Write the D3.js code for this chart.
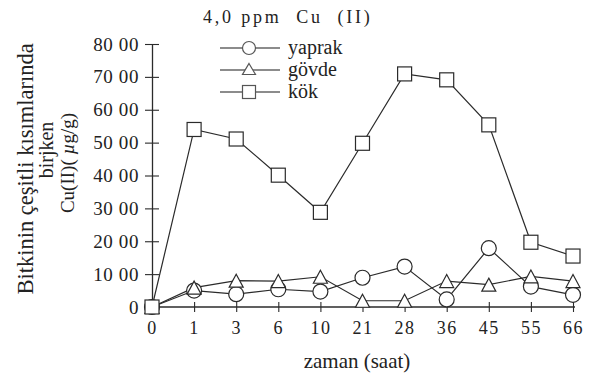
<!DOCTYPE html>
<html>
<head>
<meta charset="utf-8">
<script src="https://cdn.jsdelivr.net/npm/d3@7"></script>
<style>
  html, body { margin: 0; padding: 0; background: #fff; }
  svg { display: block; }
</style>
</head>
<body>
<svg id="chart" width="596" height="383"></svg>
<script>
// Sampling times (saat) shown as evenly spaced categories
const saatler = ["0", "1", "3", "6", "10", "21", "28", "36", "45", "55", "66"];

// Cu(II) accumulated in each plant part, µg/g
const yaprak = [0, 500, 390, 540, 470, 890, 1230, 230, 1790, 620, 370];
const govde  = [0, 590, 800, 790, 920, 190, 190, 790, 680, 930, 790];
const kok    = [0, 5400, 5110, 4010, 2880, 4980, 7090, 6910, 5540, 1970, 1550];

// Y axis tick values and their printed labels
const yTicks = [0, 1000, 2000, 3000, 4000, 5000, 6000, 7000, 8000];
const yTickLabels = ["0", "10 00", "20 00", "30 00", "40 00", "50 00", "60 00", "70 00", "80 00"];

const FONT = "'Liberation Serif', 'Times New Roman', Times, Tinos, 'Nimbus Roman', 'FreeSerif', 'DejaVu Serif', serif";
const svg = d3.select("#chart").style("font-family", FONT);
const ink = "#2b2b2b";

const x = d3.scalePoint().domain(saatler).range([152, 573]);
const y = d3.scaleLinear().domain([0, 8000]).range([307, 44]);

// Y axis with ticks crossing the axis line
const yAxis = svg.append("g")
  .attr("transform", "translate(152,0)")
  .call(d3.axisLeft(y).tickValues(yTicks)
    .tickFormat((d, i) => yTickLabels[i])
    .tickSizeOuter(0).tickSizeInner(7).tickPadding(6));
yAxis.attr("font-family", null);
yAxis.select(".domain").attr("stroke", ink).attr("stroke-width", 1.3);
yAxis.selectAll(".tick line").attr("x1", -7).attr("x2", 7).attr("stroke", ink).attr("stroke-width", 1.1);
yAxis.selectAll(".tick text")
  .attr("x", -13)
  .style("font-family", FONT)
  .style("font-size", "19px").style("letter-spacing", "0.6px")
  .attr("fill", "#222");

// X axis with ticks crossing the axis line
const xAxis = svg.append("g")
  .attr("transform", "translate(0,307)")
  .call(d3.axisBottom(x).tickSizeOuter(0).tickSizeInner(5).tickPadding(10));
xAxis.attr("font-family", null);
xAxis.select(".domain").attr("stroke", ink).attr("stroke-width", 1.3)
  .attr("d", "M152,0H575");
xAxis.selectAll(".tick line").attr("y1", -5).attr("y2", 5).attr("stroke", ink).attr("stroke-width", 1.1);
xAxis.selectAll(".tick text")
  .attr("y", 14)
  .style("font-family", FONT)
  .style("font-size", "18px").style("letter-spacing", "1.5px")
  .attr("fill", "#222");

// Marker drawers
function circle(g, cx, cy, r) {
  g.append("circle").attr("cx", cx).attr("cy", cy).attr("r", r)
    .attr("fill", "#fff").attr("stroke", ink).attr("stroke-width", 1.2);
}
function triangle(g, cx, cy, w, h) {
  g.append("path")
    .attr("d", `M${cx},${cy - h / 2}L${cx + w / 2},${cy + h / 2}L${cx - w / 2},${cy + h / 2}Z`)
    .attr("fill", "#fff").attr("stroke", ink).attr("stroke-width", 1.2);
}
function square(g, cx, cy, s) {
  g.append("rect").attr("x", cx - s / 2).attr("y", cy - s / 2).attr("width", s).attr("height", s)
    .attr("fill", "#fff").attr("stroke", ink).attr("stroke-width", 1.2);
}

const line = d3.line().x((d, i) => x(saatler[i])).y(d => y(d));

const series = [
  { values: yaprak, marker: (g, cx, cy) => circle(g, cx, cy, 7.5) },
  { values: govde,  marker: (g, cx, cy) => triangle(g, cx, cy, 14, 13) },
  { values: kok,    marker: (g, cx, cy) => square(g, cx, cy, 14) }
];

const plot = svg.append("g");
series.forEach(s => {
  plot.append("path").datum(s.values)
    .attr("d", line).attr("fill", "none")
    .attr("stroke", ink).attr("stroke-width", 1.2);
});
series.forEach(s => {
  const g = plot.append("g");
  s.values.forEach((v, i) => s.marker(g, x(saatler[i]), y(v)));
});

function label(sel) {
  return sel.style("font-family", FONT).attr("fill", "#222");
}

// Title
label(svg.append("text"))
  .attr("x", 203).attr("y", 23)
  .style("font-size", "18px").style("letter-spacing", "2.8px")
  .style("white-space", "pre")
  .text("4,0 ppm  Cu  (II)");

// Legend
const legendNames = ["yaprak", "gövde", "kök"];
const legendRowsY = [48, 70, 92];
const legend = svg.append("g");
legendNames.forEach((name, i) => {
  const ly = legendRowsY[i];
  legend.append("line").attr("x1", 220).attr("x2", 280).attr("y1", ly).attr("y2", ly)
    .attr("stroke", "#666").attr("stroke-width", 1.3);
  const m = legend.append("g");
  if (i === 0) circle(m, 249, ly, 6.5);
  if (i === 1) triangle(m, 249, ly - 1, 13, 11);
  if (i === 2) square(m, 249, ly, 13);
  m.selectAll("*").attr("stroke", "#555");
  label(legend.append("text")).attr("x", 288).attr("y", ly + 6)
    .style("font-size", "20px").text(name);
});

// Y axis title, three rotated lines
const yTitle = [
  { x: 25, y: 169, size: 22.5, t: "Bitkinin çeşitli kısımlarında" },
  { x: 46, y: 150, size: 20, t: "birjken" },
  { x: 67, y: 163, size: 19, t: null }
];
yTitle.forEach(l => {
  const t = label(svg.append("text"))
    .attr("transform", `translate(${l.x},${l.y}) rotate(-90)`)
    .attr("text-anchor", "middle").attr("dominant-baseline", "central")
    .style("font-size", l.size + "px");
  if (l.t) t.text(l.t);
  else {
    t.append("tspan").text("Cu(II)( ");
    t.append("tspan").style("font-style", "italic").text("µ");
    t.append("tspan").text("g/g)");
  }
});

// X axis title
label(svg.append("text"))
  .attr("x", 357).attr("y", 368).attr("text-anchor", "middle")
  .style("font-size", "21px").text("zaman (saat)");
</script>
</body>
</html>
